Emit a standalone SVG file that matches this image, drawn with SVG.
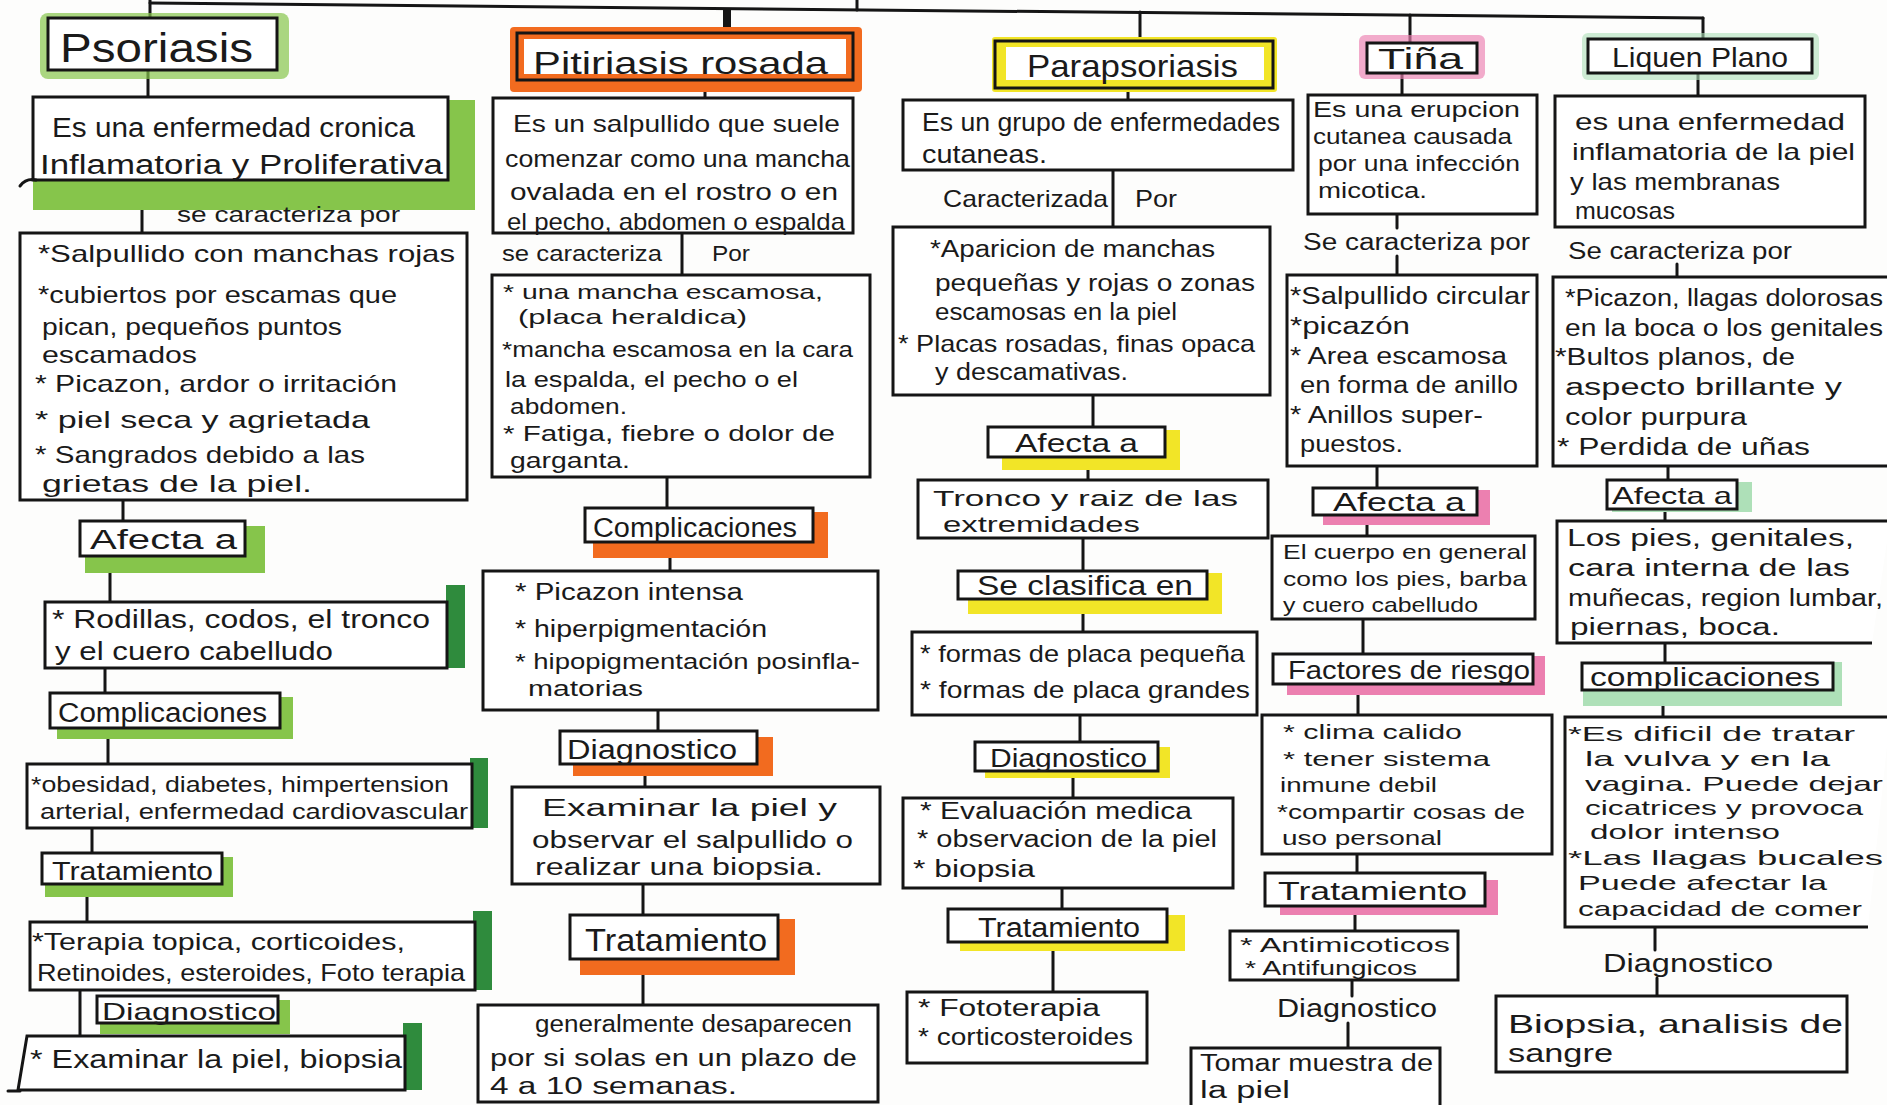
<svg xmlns="http://www.w3.org/2000/svg" width="1887" height="1105" viewBox="0 0 1887 1105">
<style>
.bx{fill:#fff;stroke:#151515;stroke-width:3}
.bo{fill:none;stroke:#151515;stroke-width:3}
.ln{stroke:#151515;stroke-width:3;fill:none;stroke-linecap:round}
.t{font-family:"Liberation Sans",Arial,sans-serif;fill:#1a1a1a}
.gl{fill:#86c54b}
.gd{fill:#2f8b3d}
.or{fill:#f26b1f}
.ye{fill:#f2e527}
.pk{fill:#ec80b0}
.mn{fill:#aee0b8}
</style>
<rect x="0" y="0" width="1887" height="1105" fill="#fdfdfc"/>

<g id="connectors">
<line class="ln" x1="150" y1="3" x2="1703" y2="18"/>
<line class="ln" x1="857" y1="0" x2="857" y2="10"/>
<line class="ln" x1="150" y1="0" x2="150" y2="18"/>
<line x1="727" y1="8" x2="727" y2="33" stroke="#151515" stroke-width="8"/>
<line class="ln" x1="1140" y1="12" x2="1140" y2="41"/>
<line class="ln" x1="1410" y1="15" x2="1410" y2="43"/>
<line class="ln" x1="1703" y1="18" x2="1703" y2="39"/>
<line class="ln" x1="148" y1="70" x2="148" y2="97"/>
<line class="ln" x1="142" y1="180" x2="142" y2="233"/>
<line class="ln" x1="123" y1="500" x2="123" y2="521"/>
<line class="ln" x1="110" y1="573" x2="110" y2="602"/>
<line class="ln" x1="105" y1="668" x2="105" y2="693"/>
<line class="ln" x1="108" y1="739" x2="108" y2="764"/>
<line class="ln" x1="92" y1="828" x2="92" y2="853"/>
<line class="ln" x1="87" y1="897" x2="87" y2="922"/>
<line class="ln" x1="80" y1="990" x2="80" y2="1036"/>
<line class="ln" x1="705" y1="80" x2="705" y2="98"/>
<line class="ln" x1="682" y1="233" x2="682" y2="275"/>
<line class="ln" x1="667" y1="477" x2="667" y2="508"/>
<line class="ln" x1="670" y1="558" x2="670" y2="571"/>
<line class="ln" x1="658" y1="710" x2="658" y2="731"/>
<line class="ln" x1="645" y1="776" x2="645" y2="787"/>
<line class="ln" x1="643" y1="884" x2="643" y2="915"/>
<line class="ln" x1="643" y1="975" x2="643" y2="1005"/>
<line class="ln" x1="1128" y1="88" x2="1128" y2="100"/>
<line class="ln" x1="1113" y1="170" x2="1113" y2="227"/>
<line class="ln" x1="1093" y1="395" x2="1093" y2="427"/>
<line class="ln" x1="1088" y1="470" x2="1088" y2="480"/>
<line class="ln" x1="1083" y1="538" x2="1083" y2="571"/>
<line class="ln" x1="1083" y1="614" x2="1083" y2="632"/>
<line class="ln" x1="1080" y1="715" x2="1080" y2="742"/>
<line class="ln" x1="1073" y1="778" x2="1073" y2="798"/>
<line class="ln" x1="1062" y1="888" x2="1062" y2="909"/>
<line class="ln" x1="1053" y1="951" x2="1053" y2="992"/>
<line class="ln" x1="1402" y1="73" x2="1402" y2="95"/>
<line class="ln" x1="1397" y1="214" x2="1397" y2="228"/>
<line class="ln" x1="1397" y1="256" x2="1397" y2="275"/>
<line class="ln" x1="1377" y1="466" x2="1377" y2="488"/>
<line class="ln" x1="1367" y1="525" x2="1367" y2="536"/>
<line class="ln" x1="1363" y1="619" x2="1363" y2="654"/>
<line class="ln" x1="1358" y1="695" x2="1358" y2="715"/>
<line class="ln" x1="1357" y1="854" x2="1357" y2="873"/>
<line class="ln" x1="1355" y1="915" x2="1355" y2="931"/>
<line class="ln" x1="1352" y1="980" x2="1352" y2="996"/>
<line class="ln" x1="1348" y1="1023" x2="1348" y2="1048"/>
<line class="ln" x1="1698" y1="73" x2="1698" y2="96"/>
<line class="ln" x1="1677" y1="264" x2="1677" y2="277"/>
<line class="ln" x1="1668" y1="466" x2="1668" y2="480"/>
<line class="ln" x1="1665" y1="509" x2="1665" y2="521"/>
<line class="ln" x1="1665" y1="643" x2="1665" y2="663"/>
<line class="ln" x1="1663" y1="706" x2="1663" y2="717"/>
<line class="ln" x1="1655" y1="927" x2="1655" y2="950"/>
<line class="ln" x1="1657" y1="978" x2="1657" y2="996"/>
</g>

<!-- Psoriasis column -->
<g id="psoriasis">
<rect class="gl" x="40" y="13" width="249" height="66" rx="8" opacity="0.7"/>
<rect class="bx" x="48" y="18" width="229" height="52"/>
<text class="t" x="60" y="62" font-size="40" textLength="193" lengthAdjust="spacingAndGlyphs">Psoriasis</text>
</g>
<g id="pso-def">
<rect class="gl" x="33" y="100" width="442" height="110"/>
<rect class="bx" x="33" y="97" width="415" height="83"/>
<path class="ln" d="M20,186 Q26,178 36,180"/>
<text class="t" x="52" y="137" font-size="27" textLength="363" lengthAdjust="spacingAndGlyphs">Es una enfermedad cronica</text>
<text class="t" x="40" y="174" font-size="27" textLength="403" lengthAdjust="spacingAndGlyphs">Inflamatoria y Proliferativa</text>
</g>
<text id="pso-label" class="t" x="177" y="222" font-size="22" textLength="223" lengthAdjust="spacingAndGlyphs">se caracteriza por</text>
<g id="pso-caract">
<rect class="bx" x="20" y="233" width="447" height="267"/>
<text class="t" x="38" y="262" font-size="24" textLength="417" lengthAdjust="spacingAndGlyphs">*Salpullido con manchas rojas</text>
<text class="t" x="38" y="303" font-size="24" textLength="359" lengthAdjust="spacingAndGlyphs">*cubiertos por escamas que</text>
<text class="t" x="42" y="335" font-size="24" textLength="300" lengthAdjust="spacingAndGlyphs">pican, pequeños puntos</text>
<text class="t" x="42" y="363" font-size="24" textLength="155" lengthAdjust="spacingAndGlyphs">escamados</text>
<text class="t" x="35" y="392" font-size="24" textLength="362" lengthAdjust="spacingAndGlyphs">* Picazon, ardor o irritación</text>
<text class="t" x="35" y="428" font-size="24" textLength="335" lengthAdjust="spacingAndGlyphs">* piel seca y agrietada</text>
<text class="t" x="35" y="463" font-size="24" textLength="330" lengthAdjust="spacingAndGlyphs">* Sangrados debido a las</text>
<text class="t" x="42" y="492" font-size="24" textLength="270" lengthAdjust="spacingAndGlyphs">grietas de la piel.</text>
</g>
<g id="pso-afecta">
<rect class="gl" x="85" y="526" width="180" height="47"/>
<rect class="bx" x="80" y="521" width="165" height="35"/>
<text class="t" x="90" y="549" font-size="27" textLength="147" lengthAdjust="spacingAndGlyphs">Afecta a</text>
</g>
<g id="pso-afecta-items">
<rect class="gd" x="446" y="585" width="19" height="83"/>
<rect class="bx" x="45" y="602" width="402" height="66"/>
<text class="t" x="52" y="628" font-size="25" textLength="378" lengthAdjust="spacingAndGlyphs">* Rodillas, codos, el tronco</text>
<text class="t" x="55" y="660" font-size="25" textLength="278" lengthAdjust="spacingAndGlyphs">y el cuero cabelludo</text>
</g>
<g id="pso-compl">
<rect class="gl" x="57" y="697" width="236" height="42"/>
<rect class="bx" x="50" y="693" width="230" height="35"/>
<text class="t" x="58" y="722" font-size="27" textLength="209" lengthAdjust="spacingAndGlyphs">Complicaciones</text>
</g>
<g id="pso-compl-items">
<rect class="gd" x="470" y="758" width="18" height="70"/>
<rect class="bx" x="27" y="764" width="445" height="64"/>
<text class="t" x="31" y="792" font-size="22" textLength="418" lengthAdjust="spacingAndGlyphs">*obesidad, diabetes, himpertension</text>
<text class="t" x="40" y="819" font-size="22" textLength="428" lengthAdjust="spacingAndGlyphs">arterial, enfermedad cardiovascular</text>
</g>
<g id="pso-trat">
<rect class="gl" x="45" y="857" width="188" height="40"/>
<rect class="bx" x="42" y="853" width="180" height="31"/>
<text class="t" x="52" y="880" font-size="25" textLength="161" lengthAdjust="spacingAndGlyphs">Tratamiento</text>
</g>
<g id="pso-trat-items">
<rect class="gd" x="473" y="911" width="19" height="79"/>
<rect class="bx" x="30" y="922" width="445" height="68"/>
<text class="t" x="32" y="950" font-size="24" textLength="373" lengthAdjust="spacingAndGlyphs">*Terapia topica, corticoides,</text>
<text class="t" x="37" y="981" font-size="24" textLength="428" lengthAdjust="spacingAndGlyphs">Retinoides, esteroides, Foto terapia</text>
</g>
<g id="pso-diag">
<rect class="gl" x="100" y="1000" width="190" height="34"/>
<rect class="bx" x="97" y="996" width="181" height="27"/>
<text class="t" x="102" y="1020" font-size="24" textLength="174" lengthAdjust="spacingAndGlyphs">Diagnostico</text>
</g>
<g id="pso-diag-items">
<rect class="gd" x="403" y="1023" width="19" height="67"/>
<polygon class="bx" points="27,1036 405,1036 405,1090 18,1090"/>
<line class="ln" x1="8" y1="1091" x2="20" y2="1091"/>
<text class="t" x="30" y="1068" font-size="26" textLength="372" lengthAdjust="spacingAndGlyphs">* Examinar la piel, biopsia</text>
</g>

<!-- Pitiriasis rosada column -->
<g id="pitiriasis">
<rect class="or" x="510" y="27" width="352" height="65" rx="4"/>
<rect x="524" y="39" width="322" height="35" fill="#fff"/>
<rect class="bo" x="517" y="33" width="336" height="47"/>
<text class="t" x="533" y="74" font-size="32" textLength="295" lengthAdjust="spacingAndGlyphs">Pitiriasis rosada</text>
</g>
<g id="pit-def">
<rect class="bx" x="493" y="98" width="360" height="135"/>
<text class="t" x="513" y="132" font-size="24" textLength="327" lengthAdjust="spacingAndGlyphs">Es un salpullido que suele</text>
<text class="t" x="505" y="167" font-size="24" textLength="345" lengthAdjust="spacingAndGlyphs">comenzar como una mancha</text>
<text class="t" x="510" y="200" font-size="24" textLength="328" lengthAdjust="spacingAndGlyphs">ovalada en el rostro o en</text>
<text class="t" x="507" y="230" font-size="24" textLength="338" lengthAdjust="spacingAndGlyphs">el pecho, abdomen o espalda</text>
</g>
<text id="pit-label1" class="t" x="502" y="261" font-size="22" textLength="160" lengthAdjust="spacingAndGlyphs">se caracteriza</text>
<text id="pit-label2" class="t" x="712" y="261" font-size="22" textLength="38" lengthAdjust="spacingAndGlyphs">Por</text>
<g id="pit-caract">
<rect class="bx" x="492" y="275" width="378" height="202"/>
<text class="t" x="503" y="299" font-size="21" textLength="320" lengthAdjust="spacingAndGlyphs">* una mancha escamosa,</text>
<text class="t" x="518" y="324" font-size="21" textLength="229" lengthAdjust="spacingAndGlyphs">(placa heraldica)</text>
<text class="t" x="502" y="357" font-size="22" textLength="351" lengthAdjust="spacingAndGlyphs">*mancha escamosa en la cara</text>
<text class="t" x="505" y="387" font-size="22" textLength="293" lengthAdjust="spacingAndGlyphs">la espalda, el pecho o el</text>
<text class="t" x="510" y="414" font-size="22" textLength="117" lengthAdjust="spacingAndGlyphs">abdomen.</text>
<text class="t" x="503" y="441" font-size="22" textLength="332" lengthAdjust="spacingAndGlyphs">* Fatiga, fiebre o dolor de</text>
<text class="t" x="510" y="468" font-size="22" textLength="120" lengthAdjust="spacingAndGlyphs">garganta.</text>
</g>
<g id="pit-compl">
<rect class="or" x="593" y="512" width="235" height="46"/>
<rect class="bx" x="585" y="508" width="228" height="34"/>
<text class="t" x="593" y="537" font-size="27" textLength="204" lengthAdjust="spacingAndGlyphs">Complicaciones</text>
</g>
<g id="pit-compl-items">
<rect class="bx" x="483" y="571" width="395" height="139"/>
<text class="t" x="515" y="600" font-size="23" textLength="228" lengthAdjust="spacingAndGlyphs">* Picazon intensa</text>
<text class="t" x="515" y="637" font-size="23" textLength="252" lengthAdjust="spacingAndGlyphs">* hiperpigmentación</text>
<text class="t" x="515" y="669" font-size="22" textLength="345" lengthAdjust="spacingAndGlyphs">* hipopigmentación posinfla-</text>
<text class="t" x="528" y="696" font-size="22" textLength="115" lengthAdjust="spacingAndGlyphs">matorias</text>
</g>
<g id="pit-diag">
<rect class="or" x="573" y="737" width="200" height="39"/>
<rect class="bx" x="560" y="731" width="197" height="33"/>
<text class="t" x="567" y="759" font-size="27" textLength="170" lengthAdjust="spacingAndGlyphs">Diagnostico</text>
</g>
<g id="pit-diag-items">
<rect class="bx" x="512" y="787" width="368" height="97"/>
<text class="t" x="542" y="816" font-size="23" textLength="295" lengthAdjust="spacingAndGlyphs">Examinar la piel y</text>
<text class="t" x="532" y="848" font-size="23" textLength="321" lengthAdjust="spacingAndGlyphs">observar el salpullido o</text>
<text class="t" x="535" y="875" font-size="23" textLength="288" lengthAdjust="spacingAndGlyphs">realizar una biopsia.</text>
</g>
<g id="pit-trat">
<rect class="or" x="580" y="919" width="215" height="56"/>
<rect class="bx" x="570" y="915" width="208" height="44"/>
<text class="t" x="585" y="951" font-size="31" textLength="182" lengthAdjust="spacingAndGlyphs">Tratamiento</text>
</g>
<g id="pit-trat-items">
<rect class="bx" x="478" y="1005" width="400" height="97"/>
<text class="t" x="535" y="1032" font-size="23" textLength="317" lengthAdjust="spacingAndGlyphs">generalmente desaparecen</text>
<text class="t" x="490" y="1066" font-size="23" textLength="367" lengthAdjust="spacingAndGlyphs">por si solas en un plazo de</text>
<text class="t" x="490" y="1094" font-size="23" textLength="247" lengthAdjust="spacingAndGlyphs">4 a 10 semanas.</text>
</g>

<!-- Parapsoriasis column -->
<g id="parapsoriasis">
<rect class="ye" x="992" y="37" width="285" height="55" rx="3"/>
<rect x="1006" y="47" width="258" height="33" fill="#fff"/>
<rect class="bo" x="995" y="41" width="278" height="47"/>
<text class="t" x="1027" y="77" font-size="32" textLength="211" lengthAdjust="spacingAndGlyphs">Parapsoriasis</text>
</g>
<g id="para-def">
<rect class="bx" x="903" y="100" width="390" height="70"/>
<text class="t" x="922" y="131" font-size="25" textLength="358" lengthAdjust="spacingAndGlyphs">Es un grupo de enfermedades</text>
<text class="t" x="922" y="163" font-size="25" textLength="125" lengthAdjust="spacingAndGlyphs">cutaneas.</text>
</g>
<text id="para-label1" class="t" x="943" y="207" font-size="24" textLength="165" lengthAdjust="spacingAndGlyphs">Caracterizada</text>
<text id="para-label2" class="t" x="1135" y="207" font-size="24" textLength="42" lengthAdjust="spacingAndGlyphs">Por</text>
<g id="para-caract">
<rect class="bx" x="893" y="227" width="377" height="168"/>
<text class="t" x="930" y="257" font-size="23" textLength="285" lengthAdjust="spacingAndGlyphs">*Aparicion de manchas</text>
<text class="t" x="935" y="291" font-size="23" textLength="320" lengthAdjust="spacingAndGlyphs">pequeñas y rojas o zonas</text>
<text class="t" x="935" y="320" font-size="23" textLength="242" lengthAdjust="spacingAndGlyphs">escamosas en la piel</text>
<text class="t" x="898" y="352" font-size="24" textLength="357" lengthAdjust="spacingAndGlyphs">* Placas rosadas, finas opaca</text>
<text class="t" x="935" y="380" font-size="23" textLength="193" lengthAdjust="spacingAndGlyphs">y descamativas.</text>
</g>
<g id="para-afecta">
<rect class="ye" x="1002" y="430" width="178" height="40"/>
<rect class="bx" x="988" y="427" width="177" height="30"/>
<text class="t" x="1015" y="452" font-size="26" textLength="123" lengthAdjust="spacingAndGlyphs">Afecta a</text>
</g>
<g id="para-afecta-items">
<rect class="bx" x="918" y="480" width="350" height="58"/>
<text class="t" x="933" y="506" font-size="22" textLength="305" lengthAdjust="spacingAndGlyphs">Tronco y raiz de las</text>
<text class="t" x="943" y="532" font-size="22" textLength="197" lengthAdjust="spacingAndGlyphs">extremidades</text>
</g>
<g id="para-clasif">
<rect class="ye" x="968" y="573" width="254" height="41"/>
<rect class="bx" x="958" y="571" width="249" height="28"/>
<text class="t" x="977" y="595" font-size="27" textLength="216" lengthAdjust="spacingAndGlyphs">Se clasifica en</text>
</g>
<g id="para-clasif-items">
<rect class="bx" x="912" y="632" width="345" height="83"/>
<text class="t" x="920" y="662" font-size="24" textLength="325" lengthAdjust="spacingAndGlyphs">* formas de placa pequeña</text>
<text class="t" x="920" y="698" font-size="24" textLength="330" lengthAdjust="spacingAndGlyphs">* formas de placa grandes</text>
</g>
<g id="para-diag">
<rect class="ye" x="985" y="747" width="185" height="31"/>
<rect class="bx" x="975" y="742" width="183" height="29"/>
<text class="t" x="990" y="767" font-size="25" textLength="157" lengthAdjust="spacingAndGlyphs">Diagnostico</text>
</g>
<g id="para-diag-items">
<rect class="bx" x="903" y="798" width="330" height="90"/>
<text class="t" x="920" y="819" font-size="23" textLength="272" lengthAdjust="spacingAndGlyphs">* Evaluación medica</text>
<text class="t" x="917" y="847" font-size="23" textLength="300" lengthAdjust="spacingAndGlyphs">* observacion de la piel</text>
<text class="t" x="913" y="877" font-size="23" textLength="122" lengthAdjust="spacingAndGlyphs">* biopsia</text>
</g>
<g id="para-trat">
<rect class="ye" x="960" y="915" width="225" height="36"/>
<rect class="bx" x="948" y="909" width="219" height="33"/>
<text class="t" x="978" y="937" font-size="27" textLength="162" lengthAdjust="spacingAndGlyphs">Tratamiento</text>
</g>
<g id="para-trat-items">
<rect class="bx" x="907" y="992" width="240" height="71"/>
<text class="t" x="918" y="1016" font-size="23" textLength="182" lengthAdjust="spacingAndGlyphs">* Fototerapia</text>
<text class="t" x="918" y="1045" font-size="23" textLength="215" lengthAdjust="spacingAndGlyphs">* corticosteroides</text>
</g>

<!-- Tiña column -->
<g id="tina">
<rect class="pk" x="1359" y="35" width="126" height="44" rx="6" opacity="0.65"/>
<rect class="bx" x="1367" y="43" width="110" height="30"/>
<text class="t" x="1378" y="69" font-size="30" textLength="85" lengthAdjust="spacingAndGlyphs">Tiña</text>
</g>
<g id="tina-def">
<rect class="bx" x="1308" y="95" width="229" height="119"/>
<text class="t" x="1313" y="117" font-size="22" textLength="207" lengthAdjust="spacingAndGlyphs">Es una erupcion</text>
<text class="t" x="1313" y="144" font-size="22" textLength="199" lengthAdjust="spacingAndGlyphs">cutanea causada</text>
<text class="t" x="1318" y="171" font-size="22" textLength="202" lengthAdjust="spacingAndGlyphs">por una infección</text>
<text class="t" x="1318" y="198" font-size="22" textLength="109" lengthAdjust="spacingAndGlyphs">micotica.</text>
</g>
<text id="tina-label" class="t" x="1303" y="250" font-size="23" textLength="227" lengthAdjust="spacingAndGlyphs">Se caracteriza por</text>
<g id="tina-caract">
<rect class="bx" x="1287" y="275" width="250" height="191"/>
<text class="t" x="1290" y="304" font-size="23" textLength="240" lengthAdjust="spacingAndGlyphs">*Salpullido circular</text>
<text class="t" x="1290" y="334" font-size="23" textLength="120" lengthAdjust="spacingAndGlyphs">*picazón</text>
<text class="t" x="1290" y="364" font-size="23" textLength="217" lengthAdjust="spacingAndGlyphs">* Area escamosa</text>
<text class="t" x="1300" y="393" font-size="23" textLength="218" lengthAdjust="spacingAndGlyphs">en forma de anillo</text>
<text class="t" x="1290" y="423" font-size="23" textLength="193" lengthAdjust="spacingAndGlyphs">* Anillos super-</text>
<text class="t" x="1300" y="452" font-size="23" textLength="103" lengthAdjust="spacingAndGlyphs">puestos.</text>
</g>
<g id="tina-afecta">
<rect class="pk" x="1323" y="490" width="167" height="35"/>
<rect class="bx" x="1313" y="488" width="164" height="27"/>
<text class="t" x="1333" y="511" font-size="25" textLength="132" lengthAdjust="spacingAndGlyphs">Afecta a</text>
</g>
<g id="tina-afecta-items">
<rect class="bx" x="1272" y="536" width="263" height="83"/>
<text class="t" x="1283" y="559" font-size="21" textLength="244" lengthAdjust="spacingAndGlyphs">El cuerpo en general</text>
<text class="t" x="1283" y="586" font-size="21" textLength="244" lengthAdjust="spacingAndGlyphs">como los pies, barba</text>
<text class="t" x="1283" y="612" font-size="21" textLength="195" lengthAdjust="spacingAndGlyphs">y cuero cabelludo</text>
</g>
<g id="tina-riesgo">
<rect class="pk" x="1287" y="656" width="258" height="39"/>
<rect class="bx" x="1273" y="654" width="260" height="30"/>
<text class="t" x="1288" y="679" font-size="25" textLength="242" lengthAdjust="spacingAndGlyphs">Factores de riesgo</text>
</g>
<g id="tina-riesgo-items">
<rect class="bx" x="1262" y="715" width="290" height="139"/>
<text class="t" x="1283" y="739" font-size="21" textLength="179" lengthAdjust="spacingAndGlyphs">* clima calido</text>
<text class="t" x="1283" y="766" font-size="21" textLength="207" lengthAdjust="spacingAndGlyphs">* tener sistema</text>
<text class="t" x="1280" y="792" font-size="21" textLength="157" lengthAdjust="spacingAndGlyphs">inmune debil</text>
<text class="t" x="1277" y="819" font-size="21" textLength="248" lengthAdjust="spacingAndGlyphs">*compartir cosas de</text>
<text class="t" x="1282" y="845" font-size="21" textLength="160" lengthAdjust="spacingAndGlyphs">uso personal</text>
</g>
<g id="tina-trat">
<rect class="pk" x="1280" y="880" width="218" height="35"/>
<rect class="bx" x="1265" y="873" width="220" height="33"/>
<text class="t" x="1278" y="900" font-size="26" textLength="189" lengthAdjust="spacingAndGlyphs">Tratamiento</text>
</g>
<g id="tina-trat-items">
<rect class="bx" x="1230" y="931" width="228" height="49"/>
<text class="t" x="1240" y="952" font-size="20" textLength="210" lengthAdjust="spacingAndGlyphs">* Antimicoticos</text>
<text class="t" x="1245" y="975" font-size="20" textLength="172" lengthAdjust="spacingAndGlyphs">* Antifungicos</text>
</g>
<text id="tina-diag" class="t" x="1277" y="1017" font-size="25" textLength="160" lengthAdjust="spacingAndGlyphs">Diagnostico</text>
<g id="tina-diag-items">
<rect class="bx" x="1191" y="1048" width="249" height="70"/>
<text class="t" x="1200" y="1071" font-size="23" textLength="233" lengthAdjust="spacingAndGlyphs">Tomar muestra de</text>
<text class="t" x="1200" y="1098" font-size="23" textLength="90" lengthAdjust="spacingAndGlyphs">la piel</text>
</g>

<!-- Liquen plano column -->
<g id="liquen">
<rect class="mn" x="1582" y="33" width="237" height="47" rx="6" opacity="0.6"/>
<rect class="bx" x="1588" y="39" width="224" height="34"/>
<text class="t" x="1612" y="67" font-size="28" textLength="176" lengthAdjust="spacingAndGlyphs">Liquen Plano</text>
</g>
<g id="liq-def">
<rect class="bx" x="1555" y="96" width="310" height="131"/>
<text class="t" x="1575" y="130" font-size="24" textLength="270" lengthAdjust="spacingAndGlyphs">es una enfermedad</text>
<text class="t" x="1572" y="160" font-size="24" textLength="283" lengthAdjust="spacingAndGlyphs">inflamatoria de la piel</text>
<text class="t" x="1570" y="190" font-size="24" textLength="210" lengthAdjust="spacingAndGlyphs">y las membranas</text>
<text class="t" x="1575" y="219" font-size="24" textLength="100" lengthAdjust="spacingAndGlyphs">mucosas</text>
</g>
<text id="liq-label" class="t" x="1568" y="259" font-size="23" textLength="224" lengthAdjust="spacingAndGlyphs">Se caracteriza por</text>
<g id="liq-caract">
<path class="bx" d="M1890,277 H1553 V466 H1890"/>
<text class="t" x="1565" y="306" font-size="23" textLength="318" lengthAdjust="spacingAndGlyphs">*Picazon, llagas dolorosas</text>
<text class="t" x="1565" y="336" font-size="23" textLength="318" lengthAdjust="spacingAndGlyphs">en la boca o los genitales</text>
<text class="t" x="1555" y="365" font-size="23" textLength="240" lengthAdjust="spacingAndGlyphs">*Bultos planos, de</text>
<text class="t" x="1565" y="395" font-size="23" textLength="277" lengthAdjust="spacingAndGlyphs">aspecto brillante y</text>
<text class="t" x="1565" y="425" font-size="23" textLength="182" lengthAdjust="spacingAndGlyphs">color purpura</text>
<text class="t" x="1557" y="455" font-size="23" textLength="253" lengthAdjust="spacingAndGlyphs">* Perdida de uñas</text>
</g>
<g id="liq-afecta">
<rect class="mn" x="1612" y="482" width="140" height="30"/>
<rect class="bx" x="1607" y="480" width="130" height="29"/>
<text class="t" x="1612" y="504" font-size="24" textLength="120" lengthAdjust="spacingAndGlyphs">Afecta a</text>
</g>
<g id="liq-afecta-items">
<path class="bx" d="M1890,521 H1557 V643 H1872"/>
<text class="t" x="1567" y="546" font-size="23" textLength="287" lengthAdjust="spacingAndGlyphs">Los pies, genitales,</text>
<text class="t" x="1568" y="576" font-size="23" textLength="282" lengthAdjust="spacingAndGlyphs">cara interna de las</text>
<text class="t" x="1568" y="606" font-size="23" textLength="315" lengthAdjust="spacingAndGlyphs">muñecas, region lumbar,</text>
<text class="t" x="1570" y="635" font-size="23" textLength="210" lengthAdjust="spacingAndGlyphs">piernas, boca.</text>
</g>
<g id="liq-compl">
<rect class="mn" x="1583" y="662" width="259" height="44"/>
<rect class="bx" x="1582" y="663" width="251" height="27"/>
<text class="t" x="1590" y="686" font-size="25" textLength="230" lengthAdjust="spacingAndGlyphs">complicaciones</text>
</g>
<g id="liq-compl-items">
<path class="bx" d="M1890,717 H1565 V927 H1868"/>
<text class="t" x="1568" y="741" font-size="21" textLength="287" lengthAdjust="spacingAndGlyphs">*Es dificil de tratar</text>
<text class="t" x="1585" y="766" font-size="21" textLength="245" lengthAdjust="spacingAndGlyphs">la vulva y en la</text>
<text class="t" x="1585" y="791" font-size="21" textLength="298" lengthAdjust="spacingAndGlyphs">vagina. Puede dejar</text>
<text class="t" x="1585" y="815" font-size="21" textLength="278" lengthAdjust="spacingAndGlyphs">cicatrices y provoca</text>
<text class="t" x="1590" y="839" font-size="21" textLength="190" lengthAdjust="spacingAndGlyphs">dolor intenso</text>
<text class="t" x="1568" y="865" font-size="21" textLength="315" lengthAdjust="spacingAndGlyphs">*Las llagas bucales</text>
<text class="t" x="1578" y="890" font-size="21" textLength="249" lengthAdjust="spacingAndGlyphs">Puede afectar la</text>
<text class="t" x="1578" y="916" font-size="21" textLength="284" lengthAdjust="spacingAndGlyphs">capacidad de comer</text>
</g>
<text id="liq-diag" class="t" x="1603" y="972" font-size="26" textLength="170" lengthAdjust="spacingAndGlyphs">Diagnostico</text>
<g id="liq-diag-items">
<rect class="bx" x="1496" y="996" width="351" height="76"/>
<text class="t" x="1508" y="1033" font-size="26" textLength="335" lengthAdjust="spacingAndGlyphs">Biopsia, analisis de</text>
<text class="t" x="1508" y="1062" font-size="26" textLength="105" lengthAdjust="spacingAndGlyphs">sangre</text>
</g>
</svg>
